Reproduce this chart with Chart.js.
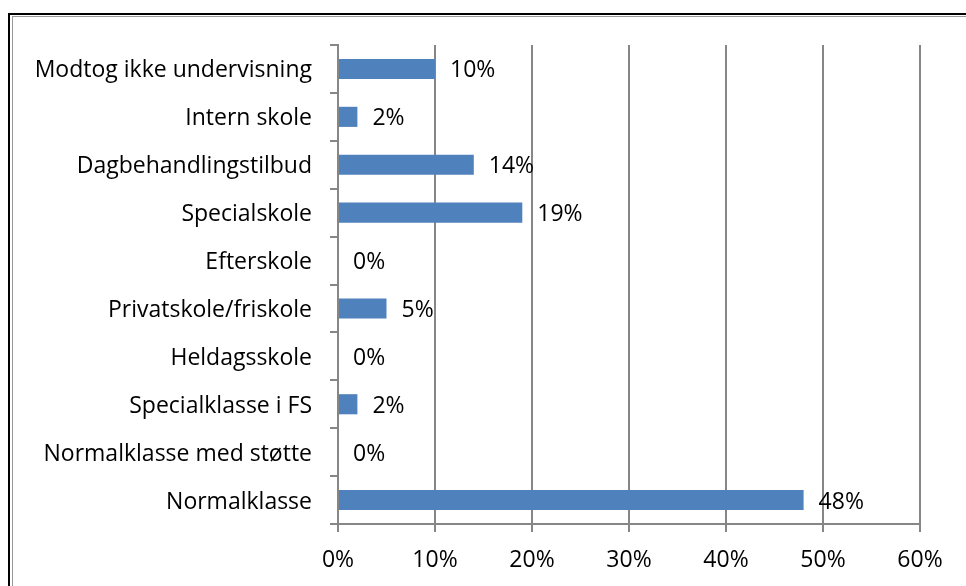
<!DOCTYPE html>
<html>
<head>
<meta charset="utf-8">
<script src="https://cdn.jsdelivr.net/npm/chart.js@4"></script>
<style>
  html, body { margin: 0; padding: 0; background: #fff; }
  #wrap { position: relative; width: 966px; height: 586px; }
  #frame { position: absolute; left: 8px; top: 13px; right: 0; bottom: 0;
           border-left: 2px solid #000; border-top: 2px solid #000; }
  #frame2 { position: absolute; left: 12px; top: 16px; right: 0; bottom: 0;
            border-left: 1px solid #9a9a9a; border-top: 1px solid #9a9a9a; }
  canvas { position: absolute; left: 0; top: 0; }
</style>
</head>
<body>
<div id="wrap">
  <div id="frame"></div>
  <div id="frame2"></div>
  <canvas id="schoolChart" width="966" height="586"></canvas>
</div>
<script>
const categories = [
    "Modtog ikke undervisning",
    "Intern skole",
    "Dagbehandlingstilbud",
    "Specialskole",
    "Efterskole",
    "Privatskole/friskole",
    "Heldagsskole",
    "Specialklasse i FS",
    "Normalklasse med støtte",
    "Normalklasse"
];
const shares = [10, 2, 14, 19, 0, 5, 0, 2, 0, 48];
const xTicks = [0, 10, 20, 30, 40, 50, 60];

const fontFamily = "'Open Sans', sans-serif";
const fontSize = 23;

// tekst til højre for hver bjælke
const barLabels = {
    id: "barLabels",
    afterDatasetsDraw(chart) {
        const c = chart.ctx;
        const meta = chart.getDatasetMeta(0);
        c.save();
        c.font = fontSize + "px " + fontFamily;
        c.fillStyle = "#000";
        c.textBaseline = "middle";
        c.textAlign = "left";
        meta.data.forEach((bar, i) => {
            c.fillText(shares[i] + "%", bar.x + 15, bar.y + 2);
        });
        c.restore();
    }
};

new Chart(document.getElementById("schoolChart"), {
    type: "bar",
    data: {
        labels: categories,
        datasets: [{
            data: shares,
            backgroundColor: "#4F81BD",
            barPercentage: 0.42,
            categoryPercentage: 1
        }]
    },
    options: {
        indexAxis: "y",
        responsive: false,
        animation: false,
        layout: { padding: { top: 45, right: 46, left: 0, bottom: 0 } },
        plugins: {
            legend: { display: false },
            tooltip: { enabled: false }
        },
        scales: {
            x: {
                min: 0,
                max: 60,
                afterBuildTicks: s => { s.ticks = xTicks.map(v => ({ value: v })); },
                afterFit: s => { s.height = 62; },
                border: { color: "#868686", width: 2 },
                grid: {
                    color: "#868686",
                    lineWidth: 2,
                    tickLength: 8
                },
                ticks: {
                    color: "#000",
                    padding: 15,
                    font: { family: fontFamily, size: fontSize },
                    callback: v => v + "%"
                }
            },
            y: {
                afterFit: s => { s.width = 338; },
                border: { color: "#868686", width: 2 },
                grid: {
                    drawOnChartArea: false,
                    color: "#868686",
                    lineWidth: 2,
                    tickLength: 8,
                    offset: true
                },
                ticks: {
                    color: "#000",
                    padding: 18,
                    labelOffset: 2,
                    font: { family: fontFamily, size: fontSize }
                }
            }
        }
    },
    plugins: [barLabels]
});
</script>
</body>
</html>
